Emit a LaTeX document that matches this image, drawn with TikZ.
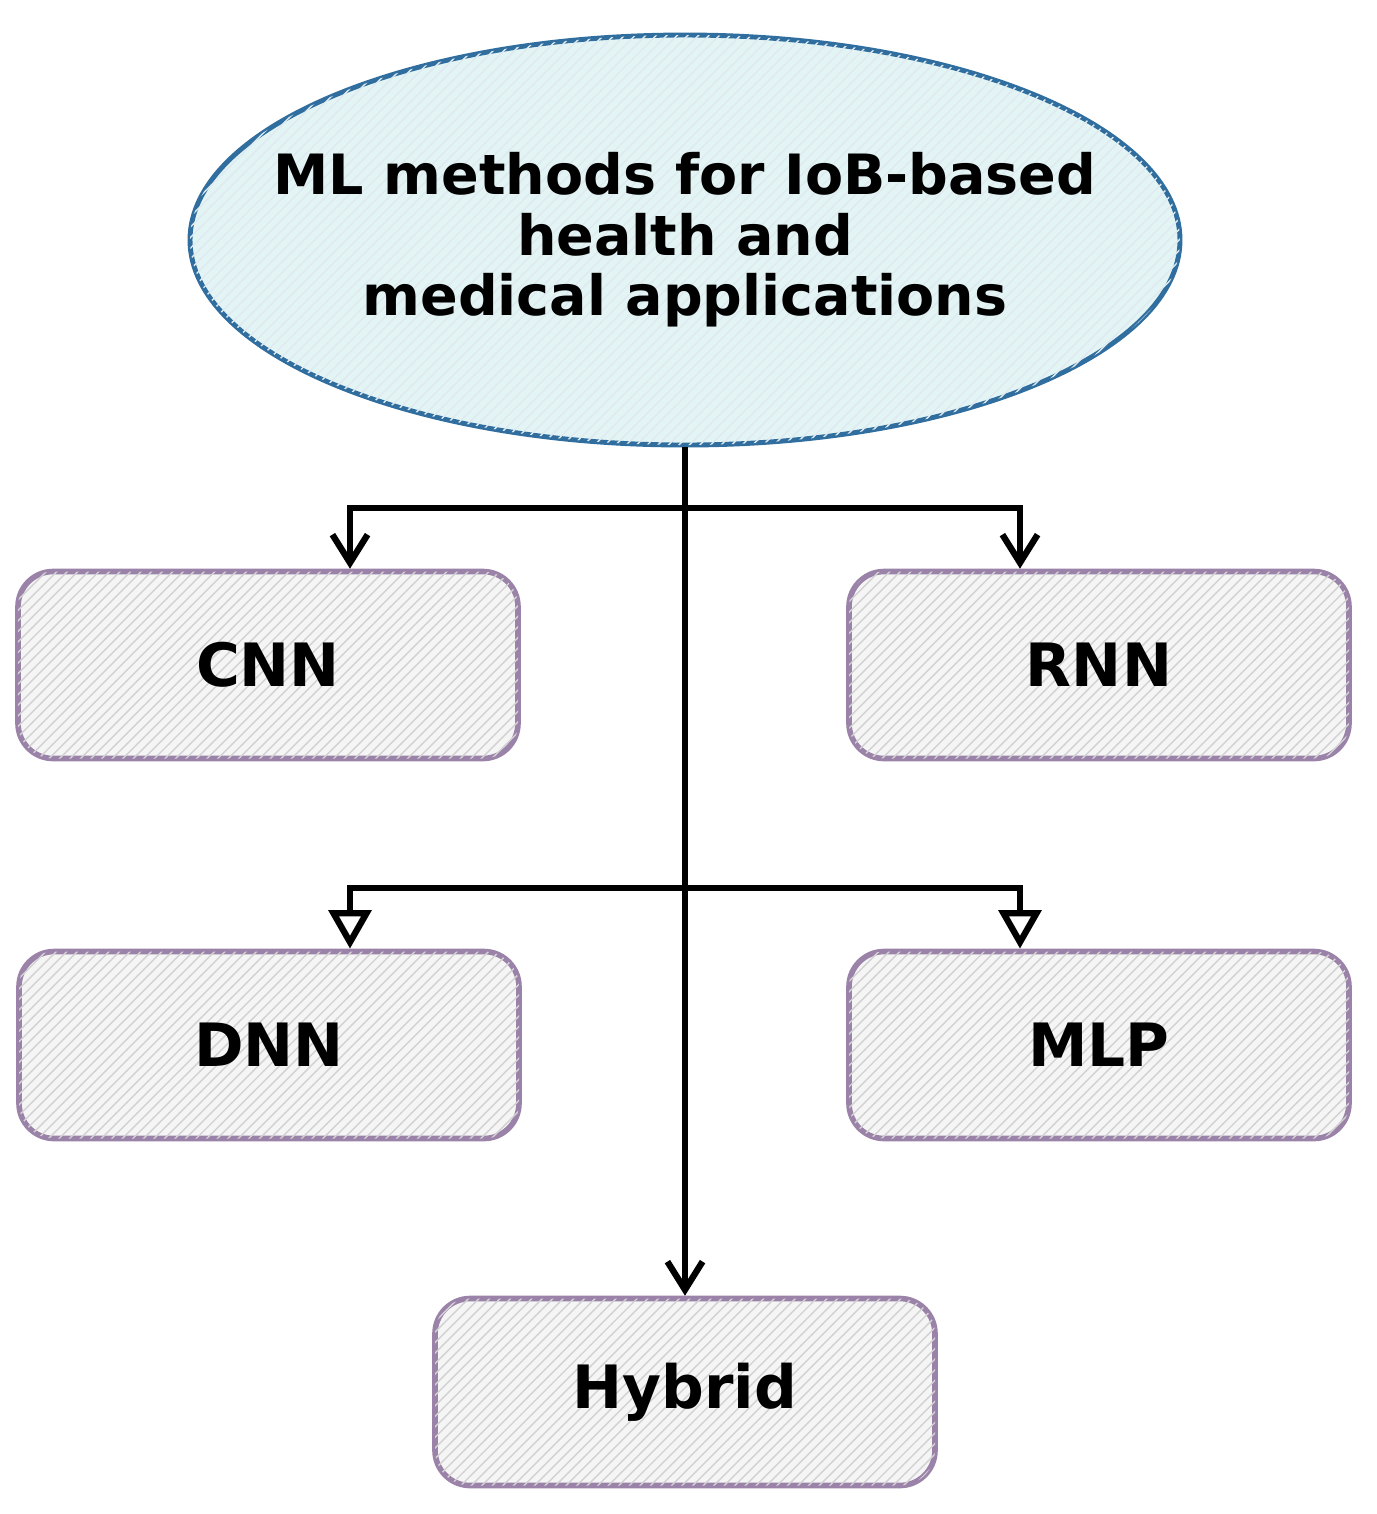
\documentclass[tikz,border=0pt]{standalone}
\usepackage{fontspec}
\setmainfont{DejaVu Sans}
\usetikzlibrary{arrows.meta,patterns,positioning,shapes.geometric}
\definecolor{boxline}{HTML}{9A82A8}
\definecolor{ovalfill}{HTML}{E3F4F4}
\definecolor{ovalline}{HTML}{2F6E9E}
\tikzset{
  method/.style={draw=boxline,line width=1.6pt,rounded corners=10pt,minimum width=5cm,minimum height=1.87cm,
    fill=gray!8,postaction={pattern=north east lines,pattern color=gray!35},
    font=\fontsize{17}{20}\selectfont\bfseries},
  link/.style={line width=1.8pt,-{Straight Barb[length=8pt,width=10pt]}},
  openlink/.style={line width=1.8pt,-{Triangle[open,length=11pt,width=12pt]}}
}
\begin{document}
\begin{tikzpicture}
\useasboundingbox (0,0) rectangle (13.77,-15.14);
\node[ellipse,draw=ovalline,line width=1.4pt,fill=ovalfill,minimum width=9.9cm,minimum height=4.1cm,inner sep=0pt,
  postaction={pattern=north east lines,pattern color=ovalline!15}]
  (root) at (6.85,-2.4) {};
\node[align=center,font=\fontsize{15.8}{17.2}\selectfont\bfseries] (title) at (root.center)
  {ML methods for IoB-based\\health and\\medical applications};
\node[method] (cnn) at (2.68,-6.65) {CNN};
\node[method] (rnn) at (10.99,-6.65) {RNN};
\node[method] (dnn) at (2.69,-10.45) {DNN};
\node[method] (mlp) at (10.99,-10.45) {MLP};
\node[method] (hyb) at (6.85,-13.92) {Hybrid};
\coordinate (upper) at (6.85,-5.08);
\coordinate (lower) at (6.85,-8.88);
\draw[link] (root.south) -- (hyb.north);
\draw[link] (upper) -| (cnn.north -| 3.5,0);
\draw[link] (upper) -| (rnn.north -| 10.2,0);
\draw[openlink] (lower) -| (dnn.north -| 3.5,0);
\draw[openlink] (lower) -| (mlp.north -| 10.2,0);
\end{tikzpicture}
\end{document}
